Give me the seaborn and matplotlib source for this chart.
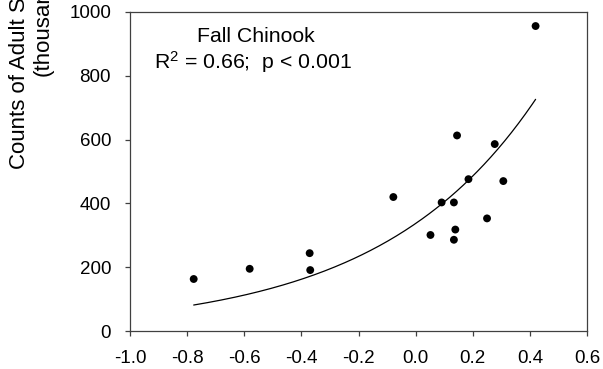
import numpy as np
import pandas as pd
import matplotlib
matplotlib.use("Agg")
import matplotlib.pyplot as plt
import seaborn as sns

# ---- data ----
index_x = [-0.777, -0.581, -0.371, -0.369, -0.078, 0.052, 0.091, 0.134,
           0.134, 0.139, 0.145, 0.185, 0.250, 0.277, 0.307, 0.420]
counts = [163, 195, 244, 191, 420, 301, 403, 403,
          286, 318, 613, 476, 353, 586, 470, 956]
fit_a = 337.0   # exponential fit: y = a * exp(b * x)
fit_b = 1.828
x_ticks = [-1.0, -0.8, -0.6, -0.4, -0.2, 0.0, 0.2, 0.4, 0.6]
y_ticks = [0, 200, 400, 600, 800, 1000]
title_text = "Fall Chinook"
stats_text = "R$^2$ = 0.66;  p < 0.001"
ylabel_line1 = "Counts of Adult Spawners"
ylabel_line2 = "(thousands)"

sns.set_style("ticks")
plt.rcParams["font.family"] = ["Liberation Sans", "DejaVu Sans"]
plt.rcParams["mathtext.fontset"] = "custom"
plt.rcParams["mathtext.rm"] = "Liberation Sans"
plt.rcParams["mathtext.it"] = "Liberation Sans:italic"
plt.rcParams["text.color"] = "black"

df = pd.DataFrame({"x": index_x, "y": counts})
xs = np.linspace(min(index_x), max(index_x), 200)
curve = pd.DataFrame({"x": xs, "y": fit_a * np.exp(fit_b * xs)})

fig = plt.figure(figsize=(6.03, 3.69), dpi=100)
ax = fig.add_axes([130 / 603, 1 - 331 / 369, 457 / 603, 319 / 369])

sns.lineplot(data=curve, x="x", y="y", ax=ax, color="black", linewidth=0.9)
sns.scatterplot(data=df, x="x", y="y", ax=ax, color="black", s=32,
                edgecolor="none", zorder=3)

ax.set_xlim(-1.0, 0.6)
ax.set_ylim(0, 1000)
ax.set_xticks(x_ticks)
ax.set_xticklabels([f"{t:.1f}" for t in x_ticks])
ax.set_yticks(y_ticks)
ax.set_yticklabels([str(t) for t in y_ticks])
ax.tick_params(axis="both", direction="out", length=3.6, width=0.9,
               labelsize=13.5, color="#404040", labelcolor="black")
ax.tick_params(axis="x", pad=10.3)
ax.tick_params(axis="y", pad=10.0)
ax.set_xlabel("")
ax.set_ylabel("")
for sp in ax.spines.values():
    sp.set_visible(True)
    sp.set_color("#404040")
    sp.set_linewidth(0.9)

ax.text(-0.559, 922, title_text, ha="center", va="center", fontsize=15.3)
ax.text(-0.57, 842, stats_text, ha="center", va="center", fontsize=15.3)

fig.text(8.5 / 603, 1 - 169 / 369, ylabel_line1, rotation=90,
         ha="left", va="bottom", fontsize=16)
fig.text(33 / 603, 1 - 76 / 369, ylabel_line2, rotation=90,
         ha="left", va="bottom", fontsize=16)

fig.savefig("out.png", dpi=100)
